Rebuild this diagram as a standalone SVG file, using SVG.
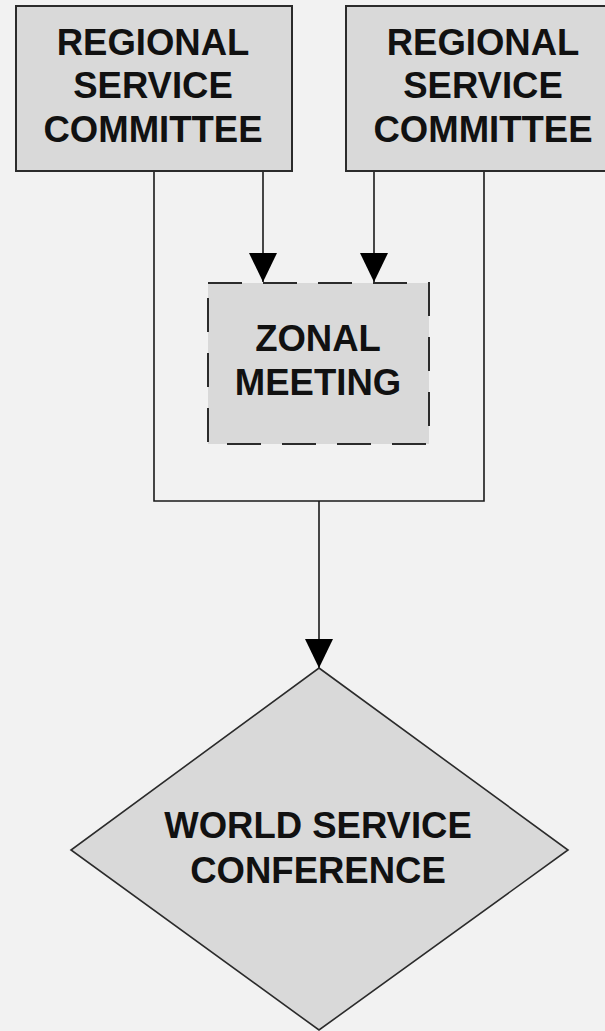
<svg xmlns="http://www.w3.org/2000/svg" width="605" height="1031" viewBox="0 0 605 1031">
<defs>
<style>
.box{fill:#d9d9d9;stroke:#2b2b2b;stroke-width:2}
.dash{fill:#d9d9d9;stroke:#2b2b2b;stroke-width:2;stroke-dasharray:34 21}
.lbl{font-family:"Liberation Sans",Arial,sans-serif;font-weight:bold;font-size:36.5px;fill:#111;text-anchor:middle}
.ln{fill:none;stroke:#1a1a1a;stroke-width:1.6}
</style>
<marker id="ah" markerUnits="userSpaceOnUse" markerWidth="30" markerHeight="30" refX="29" refY="14" orient="auto" viewBox="0 0 30 28">
<path d="M0,0 L29,14 L0,28 Z" fill="#000"/>
</marker>
</defs>
<rect width="605" height="1031" fill="#f2f2f2"/>
<g id="connectors">
<polyline class="ln" points="154,171 154,501 484,501 484,171"/>
<line class="ln" x1="319" y1="501" x2="319" y2="668" marker-end="url(#ah)"/>
<line class="ln" x1="263" y1="171" x2="263" y2="282" marker-end="url(#ah)"/>
<line class="ln" x1="374" y1="171" x2="374" y2="282" marker-end="url(#ah)"/>
</g>
<g id="rsc1">
<rect class="box" x="16" y="6" width="276" height="165"/>
<text class="lbl" x="153" y="55">REGIONAL</text>
<text class="lbl" x="153" y="98">SERVICE</text>
<text class="lbl" x="153" y="142">COMMITTEE</text>
</g>
<g id="rsc2">
<rect class="box" x="346" y="6" width="276" height="165"/>
<text class="lbl" x="483" y="55">REGIONAL</text>
<text class="lbl" x="483" y="98">SERVICE</text>
<text class="lbl" x="483" y="142">COMMITTEE</text>
</g>
<g id="zonal">
<rect class="dash" x="208" y="283" width="221" height="161"/>
<text class="lbl" x="318" y="351">ZONAL</text>
<text class="lbl" x="318" y="395">MEETING</text>
</g>
<g id="wsc">
<polygon class="box" points="319,668 568,850 319,1030 71,850" style="stroke-width:1.6"/>
<text class="lbl" x="318" y="838">WORLD SERVICE</text>
<text class="lbl" x="318" y="883">CONFERENCE</text>
</g>
</svg>
